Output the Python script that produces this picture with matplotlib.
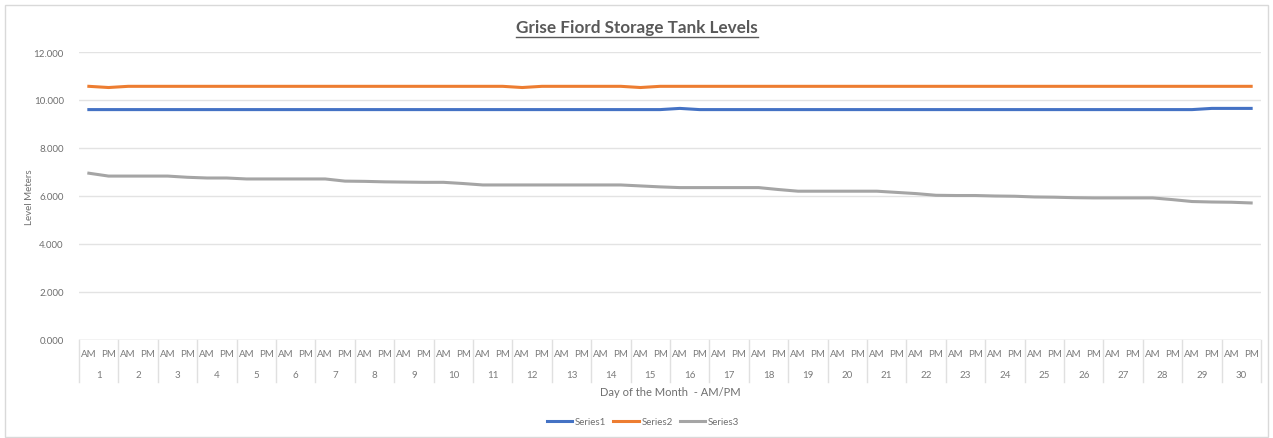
import numpy as np
import matplotlib.pyplot as plt
from matplotlib.lines import Line2D
from matplotlib.patches import Rectangle
from matplotlib.transforms import blended_transform_factory

plt.rcParams['font.family'] = ['Lato', 'DejaVu Sans']

days = list(range(1, 31))
halves = ["AM", "PM"]

series1 = [9.60] * 60
series1[30] = 9.65
series1[57] = 9.65
series1[58] = 9.65
series1[59] = 9.65

series2 = [10.57] * 60
series2[1] = 10.52
series2[22] = 10.52
series2[28] = 10.52

series3 = [6.95, 6.83, 6.83, 6.83, 6.83, 6.78, 6.75, 6.75, 6.71, 6.71,
           6.71, 6.71, 6.71, 6.62, 6.61, 6.59, 6.58, 6.57, 6.57, 6.52,
           6.46, 6.46, 6.46, 6.46, 6.46, 6.46, 6.46, 6.46, 6.42, 6.38,
           6.35, 6.35, 6.35, 6.35, 6.35, 6.27, 6.20, 6.20, 6.20, 6.20,
           6.20, 6.15, 6.10, 6.03, 6.02, 6.02, 6.00, 5.99, 5.96, 5.95,
           5.93, 5.92, 5.92, 5.92, 5.92, 5.85, 5.77, 5.75, 5.74, 5.71]

W, H = 1273, 439
fig = plt.figure(figsize=(W / 100, H / 100), dpi=100)
ax = fig.add_axes([79 / W, 1 - 341 / H, (1261 - 79) / W, (341 - 53) / H])

x = np.arange(60) + 0.5
ax.plot(x, series1, color="#4472C4", lw=2.2, label="Series1")
ax.plot(x, series2, color="#ED7D31", lw=2.2, label="Series2")
ax.plot(x, series3, color="#A5A5A5", lw=2.2, label="Series3")

ax.set_xlim(0, 60)
ax.set_ylim(0, 12)
ax.set_yticks(np.arange(0, 13, 2))
ax.set_yticklabels(["%.3f" % v for v in np.arange(0, 13, 2)])
ax.tick_params(axis="y", length=0, pad=11, labelsize=7, labelcolor="#6f6f6f")
ax.set_xticks([])
for s in ax.spines.values():
    s.set_visible(False)
ax.grid(axis="y", color="#e3e3e3", lw=1)
ax.set_axisbelow(True)
ax.axhline(0, color="#d9d9d9", lw=1, zorder=0)

# two level category axis
tr = blended_transform_factory(ax.transData, ax.transAxes)
ph = 341 - 53
for k in range(31):
    ax.plot([2 * k, 2 * k], [0, -42 / ph], transform=tr, color="#e0e0e0",
            lw=1, clip_on=False)
for i in range(60):
    ax.text(i + 0.5, -14 / ph, halves[i % 2], transform=tr, ha="center",
            va="center", fontsize=7, color="#7a7a7a")
for k, d in enumerate(days):
    ax.text(2 * k + 1, -35 / ph, str(d), transform=tr, ha="center",
            va="center", fontsize=7, color="#7a7a7a")

ax.text(30, -52 / ph, "Day of the Month  - AM/PM", transform=tr, ha="center",
        va="center", fontsize=8, color="#6f6f6f")
fig.text(30 / W, 1 - 197 / H, "Level Meters", rotation=90, ha="center",
         va="center", fontsize=7, color="#6f6f6f")

t = fig.text(637 / W, 1 - 28 / H, "Grise Fiord Storage Tank Levels",
             ha="center", va="center", fontsize=12.3, fontweight="bold",
             color="#595959")
fig.canvas.draw()
bb = t.get_window_extent(fig.canvas.get_renderer())
uy = (bb.y0 - 1.5) / H
fig.add_artist(Line2D([bb.x0 / W, bb.x1 / W], [uy, uy], color="#595959", lw=1))

fig.legend(loc="center", bbox_to_anchor=(643 / W, 1 - 423 / H), ncol=3,
           frameon=False, fontsize=7, handlelength=2.6, columnspacing=0.7,
           handletextpad=0.3, labelcolor="#6f6f6f")

fig.add_artist(Rectangle((5 / W, 1 / H), 1263 / W, 432 / H, fill=False,
                         edgecolor="#d9d9d9", lw=1, transform=fig.transFigure))

fig.savefig("out.png", dpi=100, facecolor="white")
